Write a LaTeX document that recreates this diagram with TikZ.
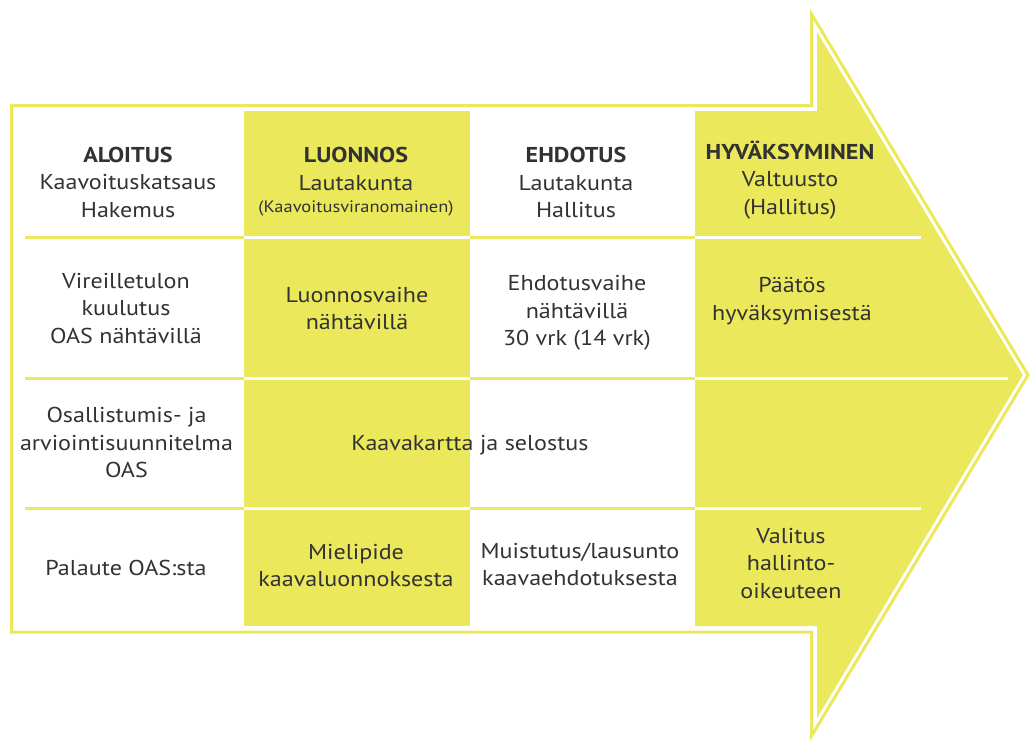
\documentclass[tikz,border=0pt]{standalone}
\usepackage{fontspec}
\setmainfont{PT Sans}[FakeStretch=1.12]
\definecolor{ylw}{RGB}{236,232,92}
\definecolor{txt}{RGB}{50,50,50}
\begin{document}
\begin{tikzpicture}[x=1pt,y=-1pt,
  cell/.style={align=center, anchor=north, inner sep=0pt, text=txt,
    font=\fontsize{21.5}{27.5}\selectfont},
  outline/.style={draw=ylw, line width=3pt, line join=miter},
  ylwfill/.style={fill=ylw, draw=none},
  ylwsep/.style={draw=ylw, line width=3pt},
  whtsep/.style={draw=white, line width=2.5pt}]
\useasboundingbox (0,0) rectangle (1032,742);

% arrow outline
\draw[outline] (11.5,105.5) -- (811.5,105.5) -- (811.5,14) -- (1028,375)
  -- (811.5,736) -- (811.5,632) -- (11.5,632) -- cycle;

% yellow fills
\fill[ylwfill] (244,111) rectangle (470,626);
\fill[ylwfill] (695,111) -- (817,111) -- (817,32) -- (1022.8,375)
  -- (817,718) -- (817,626) -- (695,626) -- cycle;

% row separators
\foreach \yy/\xe in {237.5/921, 378.5/1008, 508.5/921}{
  \draw[ylwsep] (25,\yy) -- (244,\yy);
  \draw[ylwsep] (470,\yy) -- (695,\yy);
  \draw[whtsep] (244,\yy) -- (470,\yy);
  \draw[whtsep] (695,\yy) -- (\xe,\yy);
}

% row 1
\node[cell] (aloitus) at (128,142.75) {\strut\textbf{ALOITUS}\\Kaavoituskatsaus\\Hakemus};
\node[cell] (luonnos) at (356,143.5) {\strut\textbf{LUONNOS}\\Lautakunta\\[-5pt]{\fontsize{16.5}{17}\selectfont(Kaavoitusviranomainen)}};
\node[cell] (ehdotus) at (576,143.5) {\strut\textbf{EHDOTUS}\\Lautakunta\\Hallitus};
\node[cell] (hyvaks) at (790,140) {\strut\textbf{HYVÄKSYMINEN}\\Valtuusto\\(Hallitus)};

% row 2
\node[cell] (vireille) at (126,268.75) {\strut Vireilletulon\\kuulutus\\OAS nähtävillä};
\node[cell] (luonnosv) at (357,282.75) {\strut Luonnosvaihe\\nähtävillä};
\node[cell] (ehdotusv) at (577,271.5) {\strut Ehdotusvaihe\\nähtävillä\\30 vrk (14 vrk)};
\node[cell] (paatos) at (792,273.5) {\strut Päätös\\hyväksymisestä};

% row 3
\node[cell] (oas) at (126.5,403.5) {\strut Osallistumis- ja\\arviointisuunnitelma\\OAS};
\node[cell] (kartta) at (470,430.75) {\strut Kaavakartta ja selostus};

% row 4
\node[cell] (palaute) at (126,555.75) {\strut Palaute OAS:sta};
\node[cell] (mielipide) at (356,539.75) {\strut Mielipide\\kaavaluonnoksesta};
\node[cell] (muistutus) at (580,539) {\strut Muistutus/lausunto\\kaavaehdotuksesta};
\node[cell] (valitus) at (791,524) {\strut Valitus\\hallinto-\\oikeuteen};
\end{tikzpicture}
\end{document}
